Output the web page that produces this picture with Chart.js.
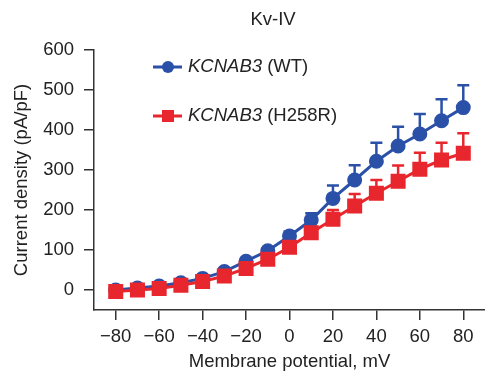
<!DOCTYPE html>
<html>
<head>
<meta charset="utf-8">
<script src="https://cdn.jsdelivr.net/npm/chart.js@4"></script>
<style>
  html, body { margin: 0; padding: 0; background: #fff; }
  #wrap { width: 485px; height: 373px; }
</style>
</head>
<body>
<div id="wrap"><canvas id="chart" width="485" height="373"></canvas></div>
<script>
// membrane potential (mV)
const voltages = [-80, -70, -60, -50, -40, -30, -20, -10, 0, 10, 20, 30, 40, 50, 60, 70, 80];
// current density (pA/pF), mean and upper error bar end
const wtMean = [0, 5, 10, 18, 29, 46, 72, 98, 135, 175, 229, 275, 322, 360, 390, 423, 456];
const wtUpper = [2, 7, 12, 21, 33, 50, 79, 104, 146, 192, 261, 312, 368, 408, 440, 477, 512];
const mutMean = [-4, 0, 4, 12, 21, 35, 54, 77, 107, 143, 177, 210, 242, 272, 302, 325, 342];
const mutUpper = [-2, 2, 6, 14, 24, 39, 59, 82, 117, 158, 200, 240, 275, 311, 343, 368, 392];
const xTicks = [-80, -60, -40, -20, 0, 20, 40, 60, 80];
const yTicks = [0, 100, 200, 300, 400, 500, 600];

const blue = "#2a50a8";
const red = "#e8262d";
const axisColor = "#333333";
const textColor = "#222222";
const fontFamily = "'Liberation Sans', Arial, sans-serif";
const fontSize = 18.5;

const errorBars = {
  id: "errorBars",
  beforeDatasetsDraw(chart) {
    const ctx = chart.ctx;
    const yScale = chart.scales.y;
    chart.data.datasets.forEach((ds, i) => {
      const meta = chart.getDatasetMeta(i);
      ctx.save();
      ctx.strokeStyle = ds.borderColor;
      ctx.lineWidth = 2.5;
      meta.data.forEach((pt, j) => {
        const top = yScale.getPixelForValue(ds.upper[j]);
        if (pt.y - top < 3) return;
        ctx.beginPath();
        ctx.moveTo(pt.x, pt.y);
        ctx.lineTo(pt.x, top);
        ctx.moveTo(pt.x - 6, top);
        ctx.lineTo(pt.x + 6, top);
        ctx.stroke();
      });
      ctx.restore();
    });
  }
};

// title and legend (legend needs italic gene name)
const annotations = {
  id: "annotations",
  afterDraw(chart) {
    const ctx = chart.ctx;
    ctx.save();
    ctx.fillStyle = textColor;
    ctx.textAlign = "center";
    ctx.textBaseline = "middle";
    ctx.font = fontSize + "px " + fontFamily;
    ctx.fillText("Kv-IV", 273, 20);
    ctx.restore();

    const items = [
      { color: blue, style: "circle", y: 67, label: " (WT)" },
      { color: red, style: "rect", y: 116, label: " (H258R)" }
    ];
    items.forEach(it => {
      ctx.save();
      ctx.strokeStyle = it.color;
      ctx.fillStyle = it.color;
      ctx.lineWidth = 3;
      ctx.beginPath();
      ctx.moveTo(153, it.y);
      ctx.lineTo(182, it.y);
      ctx.stroke();
      if (it.style === "circle") {
        ctx.beginPath();
        ctx.arc(168, it.y, 6, 0, Math.PI * 2);
        ctx.fill();
      } else {
        ctx.fillRect(162, it.y - 6, 12, 12);
      }
      ctx.fillStyle = textColor;
      ctx.textBaseline = "middle";
      ctx.font = "italic " + fontSize + "px " + fontFamily;
      ctx.fillText("KCNAB3", 188, it.y);
      const w = ctx.measureText("KCNAB3").width;
      ctx.font = fontSize + "px " + fontFamily;
      ctx.fillText(it.label, 188 + w, it.y);
      ctx.restore();
    });
  }
};

new Chart(document.getElementById("chart"), {
  type: "line",
  data: {
    labels: voltages,
    datasets: [
      {
        label: "KCNAB3 (WT)",
        data: voltages.map((v, i) => ({ x: v, y: wtMean[i] })),
        upper: wtUpper,
        borderColor: blue,
        backgroundColor: blue,
        borderWidth: 3,
        pointStyle: "circle",
        pointRadius: 6,
        order: 2
      },
      {
        label: "KCNAB3 (H258R)",
        data: voltages.map((v, i) => ({ x: v, y: mutMean[i] })),
        upper: mutUpper,
        borderColor: red,
        backgroundColor: red,
        borderWidth: 3,
        pointStyle: "rect",
        pointRadius: 8.5,
        order: 1
      }
    ]
  },
  options: {
    responsive: false,
    animation: false,
    layout: { autoPadding: false, padding: { top: 50, right: 0, bottom: 0, left: 0 } },
    plugins: {
      legend: { display: false },
      tooltip: { enabled: false },
      title: { display: false }
    },
    scales: {
      x: {
        type: "linear",
        min: -90,
        max: 90,
        afterBuildTicks: s => { s.ticks = xTicks.map(v => ({ value: v })); },
        afterFit: s => { s.height = 63; s.paddingLeft = 0; s.paddingRight = 0; },
        border: { color: axisColor, width: 1.5 },
        grid: { drawOnChartArea: false, tickLength: 10, color: axisColor, lineWidth: 1.5 },
        ticks: {
          color: textColor,
          padding: 6,
          maxRotation: 0,
          font: { family: fontFamily, size: fontSize },
          callback: v => String(v).replace("-", "\u2212")
        },
        title: {
          display: true,
          text: "Membrane potential, mV",
          color: textColor,
          font: { family: fontFamily, size: fontSize },
          padding: { top: 0, bottom: 0 }
        }
      },
      y: {
        type: "linear",
        min: -50,
        max: 600,
        afterBuildTicks: s => { s.ticks = yTicks.map(v => ({ value: v })); },
        afterFit: s => { s.width = 94; },
        border: { color: axisColor, width: 1.5 },
        grid: { drawOnChartArea: false, tickLength: 10, color: axisColor, lineWidth: 1.5 },
        ticks: {
          color: textColor,
          padding: 10,
          font: { family: fontFamily, size: fontSize }
        },
        title: {
          display: true,
          text: "Current density (pA/pF)",
          color: textColor,
          font: { family: fontFamily, size: fontSize },
          padding: { top: 11, bottom: 0 }
        }
      }
    }
  },
  plugins: [errorBars, annotations]
});
</script>
</body>
</html>
